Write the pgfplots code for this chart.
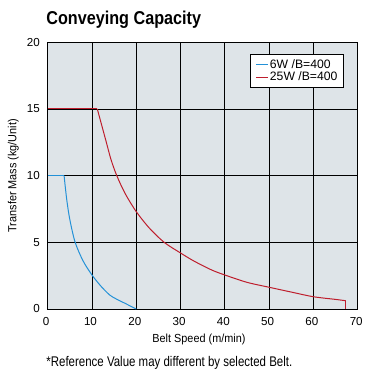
\documentclass[border=0pt]{standalone}
\usepackage{pgfplots}
\pgfplotsset{compat=1.18}
\usepackage{fontspec}
\setmainfont{Liberation Sans}
\newfontfamily\condfont{Liberation Sans}[FakeStretch=0.82]
\newfontfamily\labfont{Liberation Sans}[FakeStretch=0.93]
\newfontfamily\titlefont{Liberation Sans}[FakeStretch=0.87]
\definecolor{bg}{RGB}{222,228,232}
\definecolor{cblue}{RGB}{35,145,215}
\definecolor{cred}{RGB}{190,30,45}
\begin{document}
\begin{tikzpicture}
\path[use as bounding box] (0pt,0pt) rectangle (374pt,-379pt);
\node[anchor=base west, inner sep=0pt, font=\titlefont\bfseries\fontsize{18.6}{20}\selectfont] at (46.2pt,-24.3pt) {Conveying Capacity};
\begin{axis}[
  at={(47.7pt,-309pt)}, anchor=south west,
  scale only axis, width=310pt, height=266.7pt,
  xmin=0, xmax=70, ymin=0, ymax=20,
  xtick={0,10,...,70}, ytick={0,5,...,20},
  grid=major,
  major grid style={black, line width=0.9pt},
  axis line style={black, line width=0.9pt},
  major tick length=0pt,
  axis background/.style={fill=bg},
  /pgf/number format/assume math mode=true,
  tick label style={font=\fontsize{11.6}{12}\selectfont},
  xticklabel style={anchor=north, inner sep=0pt, yshift=-7.7pt, xshift=-1.5pt},
  yticklabel style={anchor=east, inner sep=0pt, xshift=-7.7pt},
  xlabel={Belt Speed (m/min)},
  ylabel={Transfer Mass (kg/Unit)},
  label style={font=\labfont\fontsize{11.7}{12}\selectfont},
  xlabel style={at={(axis description cs:0.488,-0.1125)}, anchor=center},
  ylabel style={at={(axis description cs:-0.111,0.5)}, anchor=center},
  legend style={at={(0.957,0.955)}, anchor=north east, draw=black, line width=0.9pt, fill=white,
    font=\fontsize{12.2}{12.7}\selectfont, inner xsep=5pt, inner ysep=3.5pt, row sep=-1pt,
    nodes={inner sep=1.5pt}},
  legend cell align=left,
  legend image code/.code={\draw[#1, line width=1pt] (-1pt,0pt) -- (10.7pt,0pt);},
]
% 6W /B=400
\addplot[cblue, line width=1pt, forget plot] coordinates {(0,10) (3.7,10)};
\addplot[cblue, line width=1pt, smooth, tension=0.5] coordinates {
(3.7,10) (4.3,8.2) (5.0,6.7) (6.2,5.0) (8,3.6) (10,2.55)
(12,1.72) (14,1.05) (15.5,0.75) (17.5,0.42) (20,0)
};
\addlegendentry{6W /B=400}
% 25W /B=400
\addplot[cred, line width=1pt, forget plot] coordinates {(0,15) (11.2,15)};
\addplot[cred, line width=1pt, smooth, tension=0.5] coordinates {
(11.2,15) (13.2,12.55) (14.3,11.2) (15.6,10) (17.5,8.65) (20,7.3) (23,6.05) (26.3,5.0)
(30,4.2) (33,3.6) (37,2.93) (40,2.55) (45,2.0) (50,1.63) (55,1.27) (60,0.92) (65,0.72)
(67.3,0.62)
};
\addlegendentry{25W /B=400}
\addplot[cred, line width=1pt, forget plot] coordinates {(67.3,0.62) (67.3,0)};
\end{axis}
\node[anchor=base west, inner sep=0pt, font=\condfont\fontsize{14}{15}\selectfont] at (46.2pt,-366.5pt) {*Reference Value may different by selected Belt.};
\end{tikzpicture}
\end{document}
